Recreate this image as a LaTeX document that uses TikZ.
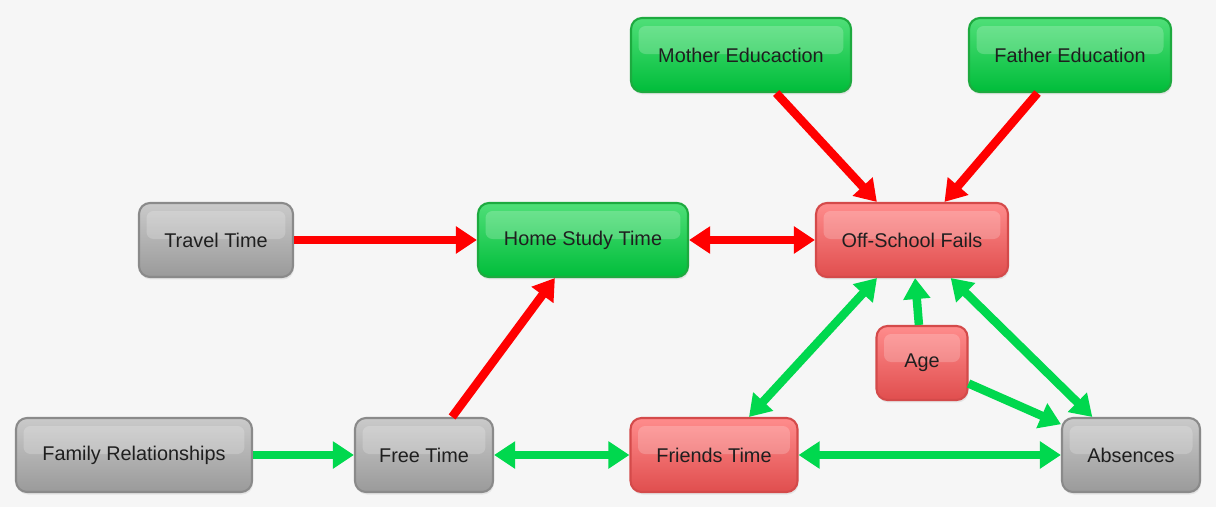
\documentclass[tikz,border=0pt]{standalone}
\usepackage{fontspec}
\setmainfont{Liberation Sans}
\usetikzlibrary{arrows.meta,shadows}
\definecolor{paper}{HTML}{F6F6F6}
\definecolor{gtop}{HTML}{4FDF78}
\definecolor{gbot}{HTML}{00BD3A}
\definecolor{gline}{HTML}{1DAA3F}
\definecolor{rtop}{HTML}{FF8C8C}
\definecolor{rbot}{HTML}{E04E4E}
\definecolor{rline}{HTML}{D44A4A}
\definecolor{ytop}{HTML}{CACACA}
\definecolor{ybot}{HTML}{9A9A9A}
\definecolor{yline}{HTML}{8A8A8A}
\definecolor{posarrow}{HTML}{00D84E}
\definecolor{negarrow}{HTML}{FF0000}
\begin{document}
\begin{tikzpicture}[x=0.02cm,y=-0.02cm,
    >={Triangle[length=0.42cm,width=0.52cm]},
    box/.style={rounded corners=0.22cm, minimum height=1.48cm, line width=1.2pt,
        font=\fontsize{11.3}{13}\selectfont, text=black!88,
        drop shadow={shadow xshift=0.02cm, shadow yshift=-0.05cm, opacity=0.15},
        path picture={\fill[white,opacity=0.2,rounded corners=0.14cm]
            ([xshift=0.15cm,yshift=-0.16cm]path picture bounding box.north west) rectangle
            ([xshift=-0.15cm,yshift=-0.72cm]path picture bounding box.north east);}},
    goodbox/.style={box, draw=gline, top color=gtop, bottom color=gbot},
    badbox/.style={box, draw=rline, top color=rtop, bottom color=rbot},
    plainbox/.style={box, draw=yline, top color=ytop, bottom color=ybot},
    negative/.style={draw=negarrow, line width=0.17cm},
    positive/.style={draw=posarrow, line width=0.17cm}]
    \useasboundingbox[fill=paper] (0,0) rectangle (1216,507);
    % factors
    \node[goodbox, minimum width=4.4cm] (mother) at (741,55) {Mother Educaction};
    \node[goodbox, minimum width=4.04cm] (father) at (1070,55) {Father Education};
    \node[plainbox, minimum width=3.08cm] (travel) at (216,240) {Travel Time};
    \node[goodbox, minimum width=4.2cm] (study) at (583,240) {Home Study Time};
    \node[badbox, minimum width=3.84cm] (fails) at (912,240) {Off-School Fails};
    \node[badbox, minimum width=1.82cm] (age) at (922,363) {Age};
    \node[plainbox, minimum width=4.72cm] (family) at (134,455) {Family Relationships};
    \node[plainbox, minimum width=2.76cm] (free) at (424,455) {Free Time};
    \node[badbox, minimum width=3.34cm] (friends) at (714,455) {Friends Time};
    \node[plainbox, minimum width=2.76cm] (absences) at (1131,455) {Absences};
    % links
    \draw[negative,->] (mother) -- (fails);
    \draw[negative,->] (father) -- (fails);
    \draw[negative,->] (travel) -- (study);
    \draw[negative,<->] (study) -- (fails);
    \draw[negative,->] (free) -- (study);
    \draw[positive,->] (family) -- (free);
    \draw[positive,<->] (free) -- (friends);
    \draw[positive,<->] (friends) -- (absences);
    \draw[positive,<->] (friends) -- (fails);
    \draw[positive,->] (age) -- (fails);
    \draw[positive,->] (age) -- (absences);
    \draw[positive,<->] (fails) -- (absences);
\end{tikzpicture}
\end{document}
